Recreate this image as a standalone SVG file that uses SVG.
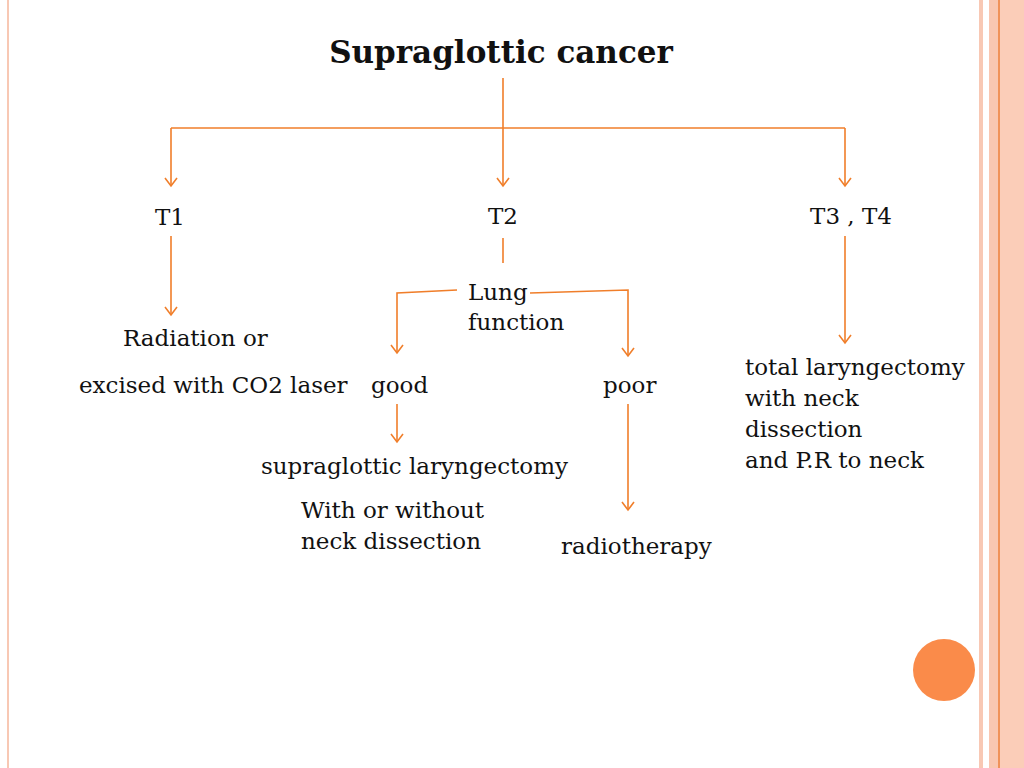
<svg xmlns="http://www.w3.org/2000/svg" width="1024" height="768" viewBox="0 0 1024 768">
<style>
text{font-family:"DejaVu Serif","Liberation Serif",serif;font-size:23px;fill:#111}
.t{font-size:31px;font-weight:bold}
.c line,.c polyline{stroke:#F07E2A;stroke-width:1.6;fill:none}
</style>
<defs><marker id="a" markerWidth="12" markerHeight="14" refX="10" refY="7" orient="auto" markerUnits="userSpaceOnUse" viewBox="0 0 12 14"><polyline points="2,1 10,7 2,13" fill="none" stroke="#F07E2A" stroke-width="1.6"/></marker></defs>
<rect width="1024" height="768" fill="#fff"/>
<rect x="7" y="0" width="2" height="768" fill="#F8C8B4"/>
<rect x="979" y="0" width="4" height="768" fill="#F8C8B4"/>
<rect x="989" y="0" width="10" height="768" fill="#F9C7B2"/>
<rect x="998" y="0" width="2" height="768" fill="#F0925A"/>
<rect x="1000" y="0" width="24" height="768" fill="#FBCDB8"/>
<circle cx="944" cy="670" r="31" fill="#FA8B4A"/>
<g class="c">
<line x1="503" y1="78" x2="503" y2="128"/>
<line x1="171" y1="128" x2="845" y2="128"/>
<line x1="171" y1="128" x2="171" y2="186" marker-end="url(#a)"/>
<line x1="503" y1="128" x2="503" y2="186" marker-end="url(#a)"/>
<line x1="845" y1="128" x2="845" y2="186" marker-end="url(#a)"/>
<line x1="171" y1="236" x2="171" y2="315" marker-end="url(#a)"/>
<line x1="845" y1="236" x2="845" y2="343" marker-end="url(#a)"/>
<line x1="503" y1="238" x2="503" y2="263"/>
<polyline points="457,290 397,293 397,353" marker-end="url(#a)"/>
<polyline points="530,293 628,290 628,356" marker-end="url(#a)"/>
<line x1="397" y1="404" x2="397" y2="442" marker-end="url(#a)"/>
<line x1="628" y1="404" x2="628" y2="510" marker-end="url(#a)"/>
</g>
<g id="title"><text class="t" x="501" y="63" text-anchor="middle">Supraglottic cancer</text></g>
<g id="t1"><text x="170" y="225" text-anchor="middle">T1</text></g>
<g id="t2"><text x="503" y="224" text-anchor="middle">T2</text></g>
<g id="t34"><text x="851" y="224" text-anchor="middle">T3 , T4</text></g>
<g id="lung"><text x="468" y="300">Lung</text><text x="468" y="330">function</text></g>
<g id="rad"><text x="123" y="346">Radiation or</text><text x="79" y="393">excised with CO2 laser</text></g>
<g id="good"><text x="371" y="393">good</text></g>
<g id="poor"><text x="603" y="393">poor</text></g>
<g id="total"><text x="745" y="375">total laryngectomy</text><text x="745" y="406">with neck</text><text x="745" y="437">dissection</text><text x="745" y="468">and P.R  to neck</text></g>
<g id="supra"><text x="261" y="474">supraglottic laryngectomy</text></g>
<g id="with"><text x="301" y="518">With or without</text><text x="301" y="549">neck dissection</text></g>
<g id="radio"><text x="561" y="554">radiotherapy</text></g>
</svg>
